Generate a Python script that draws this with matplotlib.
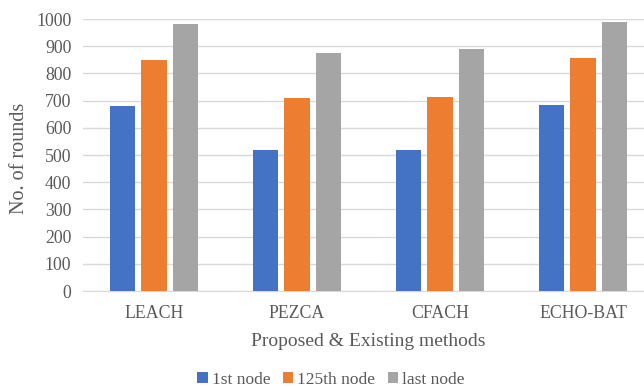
import matplotlib.pyplot as plt
import numpy as np

methods = ["LEACH", "PEZCA", "CFACH", "ECHO-BAT"]
first_node = [680, 518, 518, 685]
node_125 = [848, 710, 714, 856]
last_node = [980, 876, 888, 988]

series = [("1st node", first_node, "#4472C4"),
          ("125th node", node_125, "#ED7D31"),
          ("last node", last_node, "#A5A5A5")]

plt.rcParams['font.family'] = ['Liberation Serif', 'DejaVu Serif']
text_col = "#595959"

fig = plt.figure(figsize=(6.44, 3.87), dpi=100)
# axes run a little past the right edge of the canvas
ax = fig.add_axes([82.5 / 644, 1 - 291 / 387, 572 / 644, 272 / 387])

x = np.arange(len(methods))
width = 0.175
pitch = 0.22
for i, (name, vals, col) in enumerate(series):
    ax.bar(x + (i - 1) * pitch, vals, width, color=col, label=name, zorder=3)

ax.set_xlim(-0.5, len(methods) - 0.5)
ax.set_ylim(0, 1000)
ax.set_yticks(range(0, 1001, 100))
ax.set_xticks(x)
ax.set_xticklabels(methods)
ax.grid(axis='y', color='#D9D9D9', linewidth=1, zorder=0)
for s in ['top', 'right', 'left']:
    ax.spines[s].set_visible(False)
ax.spines['bottom'].set_color('#D9D9D9')
ax.tick_params(axis='both', length=0, labelsize=12.8, colors=text_col)
ax.tick_params(axis='y', pad=8)
ax.tick_params(axis='x', pad=10)

fig.text(20 / 644, 1 - 158 / 387, "No. of rounds", fontsize=14.5, color=text_col,
         rotation=90, ha='center', va='center')
fig.text(368 / 644, 1 - 341 / 387, "Proposed & Existing methods", fontsize=14,
         color=text_col, ha='center', va='center')

fig.legend(loc='center', bbox_to_anchor=(331 / 644, 1 - 380 / 387), ncol=3,
           frameon=False, fontsize=12.5, labelcolor=text_col, handlelength=0.6,
           handleheight=0.6, handletextpad=0.25, columnspacing=0.7)

fig.savefig("out.png", dpi=100)
